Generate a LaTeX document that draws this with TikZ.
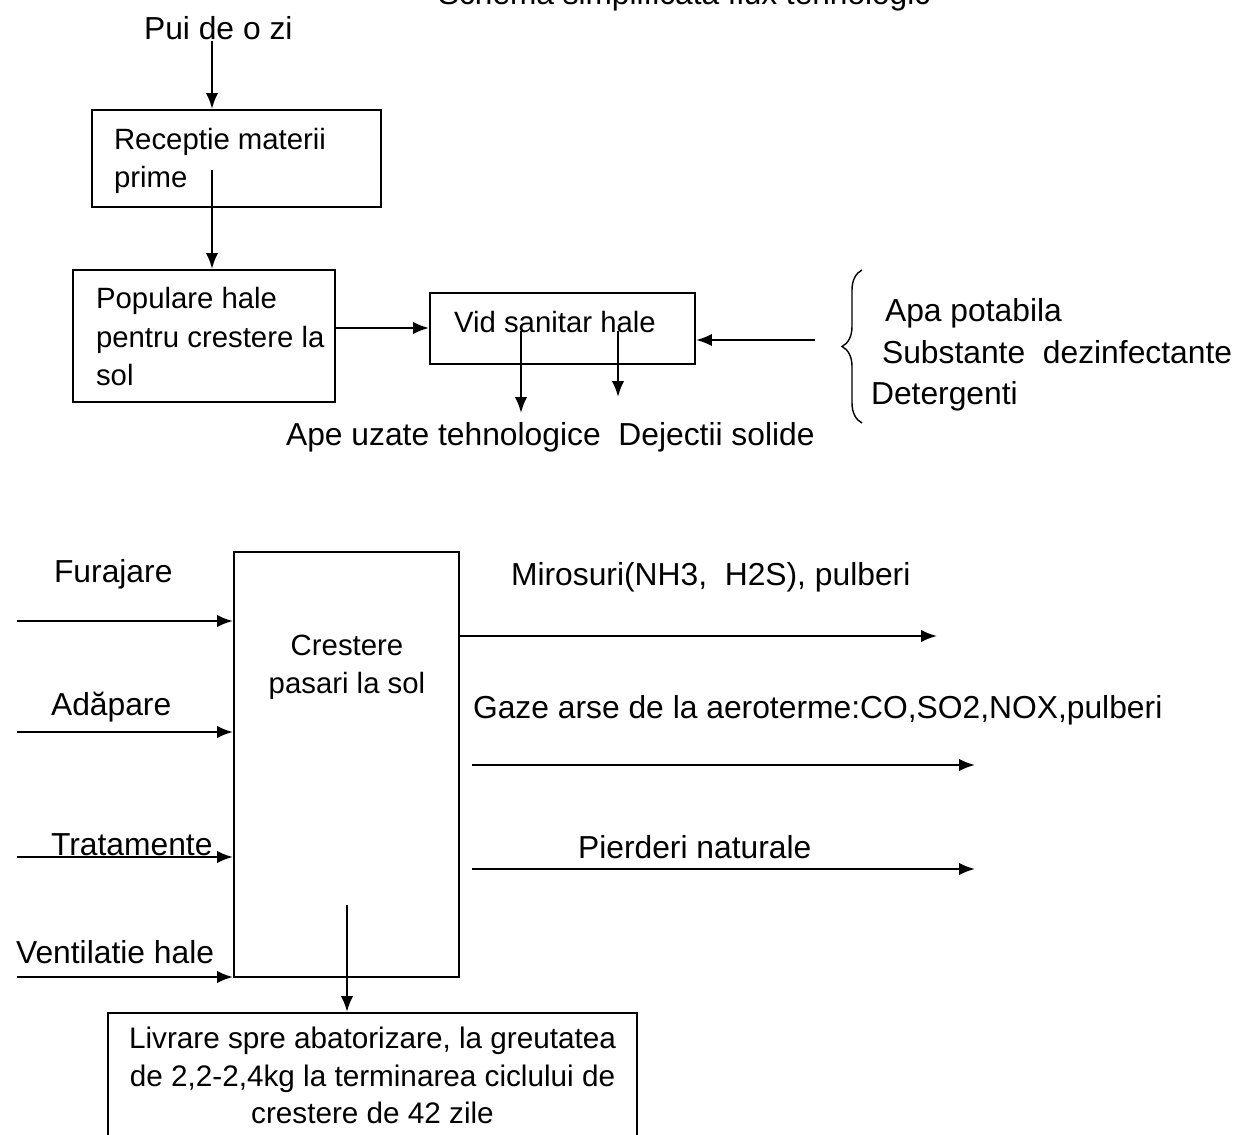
\documentclass[tikz,border=0pt]{standalone}
\usepackage{fontspec}
\setmainfont{Liberation Sans}
\usetikzlibrary{arrows.meta,decorations.pathreplacing}
\begin{document}
\begin{tikzpicture}[x=0.02cm,y=-0.02cm,
  line width=1.2pt,
  arr/.style={-{Latex[length=9pt,width=7pt]}},
  box/.style={draw, rectangle, inner sep=0pt},
  lbl/.style={font=\fontsize{18.1}{21.5}\selectfont, inner sep=0pt, anchor=base west},
  btxt/.style={font=\fontsize{16.7}{21.5}\selectfont, inner sep=0pt, anchor=base west},
  ttl/.style={font=\fontsize{18}{21.5}\selectfont, inner sep=0pt, anchor=base west},
]
\useasboundingbox (0,0) rectangle (1234,1135);
\fill[white] (0,0) rectangle (1234,1135);

% title (cut off at top, as in the reference)
\node[ttl] (title) at (437,5) {Schema simplificata flux tehnologic};

% upper part
\node[lbl] (pui) at (143,40) {Pui de o zi};
\node[box, minimum width=5.78cm, minimum height=1.94cm] (box1) at (236.5,158.5) {};
\node[btxt] (t1a) at (113,150) {Receptie materii};
\node[btxt] (t1b) at (113,188) {prime};

\node[box, minimum width=5.24cm, minimum height=2.64cm] (box2) at (204,336) {};
\node[btxt] (t2a) at (95,309) {Populare hale};
\node[btxt] (t2b) at (95,347) {pentru crestere la};
\node[btxt] (t2c) at (95,385) {sol};

\node[box, minimum width=5.30cm, minimum height=1.42cm] (box3) at (562.5,328.5) {};
\node[btxt] (t3) at (453,332) {Vid sanitar hale};

\node[lbl] (waste) at (285,445) {Ape uzate tehnologice~ Dejectii solide};

\node[lbl] (apa) at (884,321) {Apa potabila};
\node[lbl] (subst) at (881,363) {Substante~ dezinfectante};
\node[lbl] (det) at (870,404) {Detergenti};

\coordinate (c1) at (212,0);
\coordinate (a2) at (212,170);
\coordinate (a3) at (0,328);
\coordinate (a4) at (815,340);
\coordinate (w1s) at (521,331);
\coordinate (w1e) at (521,413);
\coordinate (w2s) at (618,331);
\coordinate (w2e) at (618,397);

\draw[arr] (pui.south -| c1) -- (box1.north -| c1);
\draw[arr] (a2) -- (a2 |- box2.north);
\draw[arr] (a3 -| box2.east) -- (a3 -| box3.west);
\draw[arr] (a4) -- (a4 -| box3.east);
\draw[arr] (w1s) -- (w1e);
\draw[arr] (w2s) -- (w2e);
\draw[line width=0.8pt, decorate, decoration={brace, amplitude=0.4cm}] (862,423) -- (862,270);

% lower part
\node[box, minimum width=4.50cm, minimum height=8.50cm] (box4) at (346.5,764.5) {};
\node[btxt, anchor=base] (t4a) at (347,655) {Crestere};
\node[btxt, anchor=base] (t4b) at (347,693) {pasari la sol};

\node[lbl] (fur) at (53,582) {Furajare};
\node[lbl] (ada) at (50,715) {Adăpare};
\node[lbl] (tra) at (50,855) {Tratamente};
\node[lbl] (ven) at (15,963) {Ventilatie hale};

\coordinate (i1) at (17,621);
\coordinate (i2) at (17,732);
\coordinate (i3) at (17,857);
\coordinate (i4) at (17,977);
\draw[arr] (i1) -- (i1 -| box4.west);
\draw[arr] (i2) -- (i2 -| box4.west);
\draw[arr] (i3) -- (i3 -| box4.west);
\draw[arr] (i4) -- (i4 -| box4.west);

\node[lbl] (mir) at (510,585) {Mirosuri(NH3,~ H2S), pulberi};
\node[lbl] (gaz) at (472,718) {Gaze arse de la aeroterme:CO,SO2,NOX,pulberi};
\node[lbl] (pie) at (577,858) {Pierderi naturale};

\coordinate (o1) at (937,636);
\coordinate (o2) at (975,765);
\coordinate (o3) at (975,869);
\draw[arr] (o1 -| box4.east) -- (o1);
\draw[arr, shorten <=0.24cm] (o2 -| box4.east) -- (o2);
\draw[arr, shorten <=0.24cm] (o3 -| box4.east) -- (o3);

\node[box, minimum width=10.58cm, minimum height=2.50cm,
      font=\fontsize{16.9}{21.2}\selectfont, align=center] (box5) at (372.5,1075.5)
  {Livrare spre abatorizare, la greutatea\\de 2,2-2,4kg la terminarea ciclului de\\crestere de 42 zile};
\coordinate (d5) at (347,905);
\draw[arr] (d5) -- (d5 |- box5.north);
\end{tikzpicture}
\end{document}
